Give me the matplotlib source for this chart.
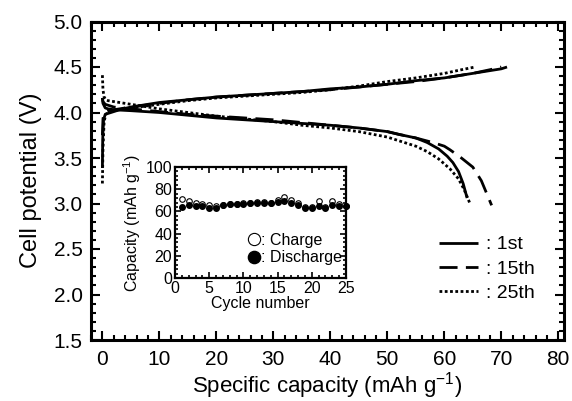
import matplotlib
matplotlib.use("Agg")
import matplotlib.pyplot as plt
from matplotlib.ticker import MultipleLocator

plt.rcParams["font.family"] = ["Liberation Sans", "DejaVu Sans"]
plt.rcParams["mathtext.fontset"] = "custom"
plt.rcParams["mathtext.rm"] = "Liberation Sans"

# 1st cycle
ch1_x = [0, 0.05, 0.2, 0.5, 1, 2, 3, 5, 8, 10, 15, 20, 25, 30, 35, 40, 45, 50, 55, 60, 65, 68, 70, 71]
ch1_v = [3.39, 3.70, 3.92, 3.98, 3.99, 4.01, 4.03, 4.06, 4.09, 4.11, 4.14, 4.17, 4.19, 4.21, 4.23,
         4.26, 4.28, 4.31, 4.35, 4.38, 4.43, 4.46, 4.48, 4.50]
dis1_x = [0, 0.1, 0.5, 1, 2, 5, 10, 15, 20, 25, 30, 35, 40, 45, 50, 52, 55, 57, 59, 60.5, 61.5,
          62.5, 63.3, 64]
dis1_v = [4.16, 4.10, 4.05, 4.04, 4.03, 4.02, 4.00, 3.97, 3.94, 3.92, 3.90, 3.88, 3.86, 3.83, 3.79,
          3.76, 3.72, 3.67, 3.60, 3.52, 3.45, 3.35, 3.22, 3.06]

# 15th cycle
ch15_x = [0, 0.1, 0.3, 1, 2, 5, 10, 15, 20, 25, 30, 35, 40, 45, 50, 55, 60, 65, 68, 70]
ch15_v = [3.75, 3.93, 4.00, 4.02, 4.03, 4.06, 4.10, 4.14, 4.17, 4.19, 4.21, 4.23, 4.25, 4.28, 4.31,
          4.34, 4.38, 4.43, 4.47, 4.50]
dis15_x = [0, 0.1, 0.5, 1, 2, 5, 10, 15, 20, 25, 30, 35, 40, 45, 50, 52, 55, 58, 60, 61, 63, 65,
           66.5, 67.5, 68.3]
dis15_v = [4.16, 4.12, 4.09, 4.08, 4.06, 4.04, 4.01, 3.98, 3.96, 3.94, 3.92, 3.89, 3.86, 3.83, 3.79,
           3.76, 3.72, 3.67, 3.63, 3.59, 3.50, 3.40, 3.25, 3.10, 2.98]

# 25th cycle
ch25_x = [0, 0.1, 0.3, 0.6, 1, 2, 5, 10, 15, 20, 25, 30, 35, 40, 45, 50, 55, 60, 63, 65.4]
ch25_v = [3.22, 3.60, 3.90, 3.98, 4.00, 4.02, 4.05, 4.09, 4.13, 4.16, 4.18, 4.20, 4.22, 4.25, 4.29,
          4.34, 4.38, 4.43, 4.47, 4.50]
dis25_x = [0, 0.1, 0.3, 0.6, 1, 3, 6, 10, 15, 20, 25, 30, 35, 40, 45, 50, 52, 55, 57, 59, 61, 62.5,
           63.5, 64.5]
dis25_v = [4.41, 4.25, 4.17, 4.14, 4.13, 4.11, 4.08, 4.04, 4.00, 3.96, 3.93, 3.90, 3.86, 3.83, 3.79,
           3.73, 3.69, 3.63, 3.57, 3.49, 3.38, 3.27, 3.15, 3.00]

# inset: capacity vs cycle
cycles = list(range(1, 26))
charge_cap = [71, 69, 68, 67, 65.5, 65, 66, 67, 67, 67.5, 68, 68.5, 68.5, 68, 70, 73, 70, 67.5,
              64, 64, 69, 64, 69, 67, 65]
discharge_cap = [64, 65.5, 65, 64.5, 63, 63.5, 65.5, 66.5, 66.5, 67, 67.5, 68, 68, 67.5, 68.5, 69.5,
                 68, 66, 63.5, 63.5, 65, 63, 66, 65, 64.5]

fig = plt.figure(figsize=(5.72, 4.01), dpi=100)
ax = fig.add_axes([91 / 572, 1 - 340 / 401, 473 / 572, 318.5 / 401])

lw = 2.0
dashed = (0, (6.5, 3))
dotted = (0, (1, 0.9))
l1, = ax.plot(ch1_x, ch1_v, color="black", lw=lw, solid_capstyle="butt")
ax.plot(dis1_x, dis1_v, color="black", lw=lw, solid_capstyle="butt")
l15, = ax.plot(ch15_x, ch15_v, color="black", lw=lw, linestyle=dashed)
ax.plot(dis15_x, dis15_v, color="black", lw=lw, linestyle=dashed)
l25, = ax.plot(ch25_x, ch25_v, color="black", lw=lw, linestyle=dotted)
ax.plot(dis25_x, dis25_v, color="black", lw=lw, linestyle=dotted)

ax.set_xlim(-2, 81)
ax.set_ylim(1.5, 5.0)
ax.xaxis.set_major_locator(MultipleLocator(10))
ax.xaxis.set_minor_locator(MultipleLocator(2))
ax.yaxis.set_major_locator(MultipleLocator(0.5))
ax.yaxis.set_minor_locator(MultipleLocator(0.1))
ax.yaxis.set_major_formatter(plt.FormatStrFormatter("%.1f"))
ax.tick_params(which="both", direction="in", top=True, right=True, width=1.5, labelsize=15)
ax.tick_params(which="major", length=6.5)
ax.tick_params(which="minor", length=3.5)
ax.tick_params(axis="x", pad=7)
ax.tick_params(axis="y", pad=6)
for s in ax.spines.values():
    s.set_linewidth(2.2)
ax.set_xlabel("Specific capacity (mAh g$^{-1}$)", fontsize=16, labelpad=1)
ax.set_ylabel("Cell potential (V)", fontsize=17, labelpad=8)

ax.legend([l1, l15, l25], [": 1st", ": 15th", ": 25th"], loc="center left",
          bbox_to_anchor=(0.736, 0.223), frameon=False, fontsize=14, handlelength=2.0,
          handletextpad=0.4, labelspacing=0.35, borderpad=0, borderaxespad=0)

# inset
axi = fig.add_axes([175 / 572, 1 - 278 / 401, 171 / 572, 111 / 401])
axi.plot(cycles, charge_cap, linestyle="none", marker="o", ms=4, mfc="white", mec="black",
         mew=0.8, clip_on=False, zorder=3, label=": Charge")
axi.plot(cycles, discharge_cap, linestyle="none", marker="o", ms=4, mfc="black", mec="black",
         clip_on=False, zorder=4, label=": Discharge")
axi.set_xlim(0, 25)
axi.set_ylim(0, 100)
axi.xaxis.set_major_locator(MultipleLocator(5))
axi.xaxis.set_minor_locator(MultipleLocator(1))
axi.yaxis.set_major_locator(MultipleLocator(20))
axi.yaxis.set_minor_locator(MultipleLocator(4))
axi.tick_params(which="both", direction="in", top=True, right=True, width=1.2, labelsize=11.5,
                pad=2)
axi.tick_params(which="major", length=4.5)
axi.tick_params(which="minor", length=2)
for s in axi.spines.values():
    s.set_linewidth(1.6)
axi.set_xlabel("Cycle number", fontsize=11.5, labelpad=0)
axi.set_ylabel("Capacity (mAh g$^{-1}$)", fontsize=11.5, labelpad=2)
axi.legend(loc="center left", bbox_to_anchor=(0.43, 0.26), frameon=False, fontsize=11.5,
           markerscale=2.2, handlelength=0.7, handletextpad=0.05, labelspacing=0.15,
           borderpad=0, borderaxespad=0)

fig.savefig("out.png", dpi=100)
